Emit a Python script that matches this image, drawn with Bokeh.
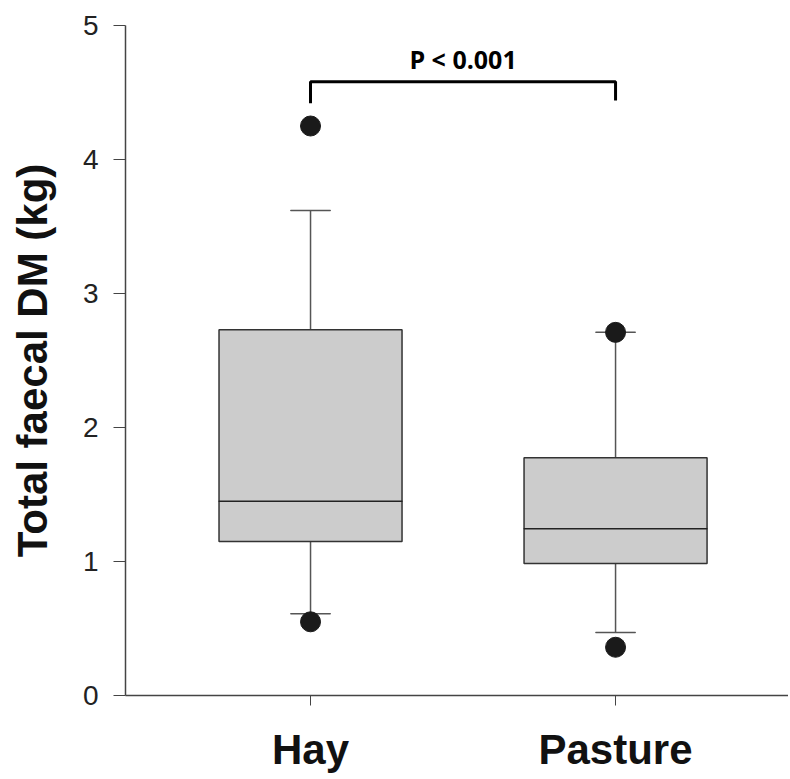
from bokeh.plotting import figure
from bokeh.models import Range1d, FixedTicker, ColumnDataSource
from bokeh.core.properties import value
from bokeh.embed import file_html
from bokeh.resources import INLINE

# ---- data ----
categories = ["Hay", "Pasture"]
q1 = [1.15, 0.985]
median = [1.45, 1.245]
q3 = [2.73, 1.775]
whisker_low = [0.61, 0.47]
whisker_high = [3.62, 2.71]
outlier_cat = ["Hay", "Hay", "Pasture", "Pasture"]
outlier_val = [4.25, 0.55, 2.71, 0.36]
y_ticks = [0, 1, 2, 3, 4, 5]
p_text = "P < 0.001"
bracket_top = 4.58
bracket_legs = [4.42, 4.44]
p_text_y = 4.75

pos = {c: i + 1 for i, c in enumerate(categories)}
xs = [pos[c] for c in categories]

p = figure(output_backend="svg", toolbar_location=None,
           frame_width=663, frame_height=670,
           min_border_left=125, min_border_right=0,
           min_border_top=25, min_border_bottom=76,
           x_range=Range1d(0.3934, 2.567), y_range=Range1d(0, 5))
p.outline_line_color = None
p.grid.visible = False
p.background_fill_color = "white"
p.border_fill_color = "white"

box_w = 0.6
cap_w = 0.13

src = ColumnDataSource(dict(x=xs, q1=q1, med=median, q3=q3, lo=whisker_low, hi=whisker_high))

# whiskers
p.segment(x0="x", y0="q3", x1="x", y1="hi", source=src, line_color="#555555", line_width=1.5)
p.segment(x0="x", y0="lo", x1="x", y1="q1", source=src, line_color="#555555", line_width=1.5)
p.rect(x="x", y="hi", width=cap_w, height=0.0001, source=src, line_color="#555555", line_width=1.5, fill_color=None)
p.rect(x="x", y="lo", width=cap_w, height=0.0001, source=src, line_color="#555555", line_width=1.5, fill_color=None)
# boxes
p.vbar(x="x", bottom="q1", top="q3", width=box_w, source=src,
       fill_color="#cccccc", line_color="#333333", line_width=1.5)
p.rect(x="x", y="med", width=box_w, height=0.0001, source=src, line_color="#222222", line_width=1.5, fill_color=None)

# outliers
p.scatter([pos[c] for c in outlier_cat], outlier_val, size=20, marker="circle",
          fill_color="#1a1a1a", line_color="#1a1a1a")

# significance bracket
x1, x2 = pos[categories[0]], pos[categories[1]]
p.line([x1, x1, x2, x2], [bracket_legs[0], bracket_top, bracket_top, bracket_legs[1]],
       line_color="black", line_width=3)
p.text([(x1 + x2) / 2], [p_text_y], text=[p_text], text_align="center",
       text_baseline="alphabetic", text_font=value("Open Sans"),
       text_font_style="bold", text_font_size="25px", text_color="black")

# axes
p.yaxis.ticker = FixedTicker(ticks=y_ticks)
p.yaxis.axis_label = "Total faecal DM (kg)"
p.yaxis.axis_label_text_font = "Liberation Sans"
p.yaxis.axis_label_text_font_style = "bold"
p.yaxis.axis_label_text_font_size = "42px"
p.yaxis.axis_label_text_color = "#111111"
p.yaxis.axis_label_standoff = 24
p.yaxis.major_label_text_font = "Liberation Sans"
p.yaxis.major_label_text_font_size = "28px"
p.yaxis.major_label_text_color = "#222222"
p.yaxis.major_label_standoff = 15
p.yaxis.major_tick_out = 12
p.yaxis.major_tick_in = 0
p.yaxis.minor_tick_out = 0
p.yaxis.minor_tick_in = 0
p.yaxis.axis_line_color = "#444444"
p.yaxis.major_tick_line_color = "#444444"
p.yaxis.axis_line_width = 1.5

p.xaxis.ticker = FixedTicker(ticks=xs)
p.xaxis.major_label_overrides = {pos[c]: c for c in categories}
p.xaxis.major_label_text_font = "Liberation Sans"
p.xaxis.major_label_text_font_style = "bold"
p.xaxis.major_label_text_font_size = "42px"
p.xaxis.major_label_text_color = "#111111"
p.xaxis.major_label_standoff = 20
p.xaxis.major_tick_out = 10
p.xaxis.major_tick_in = 0
p.xaxis.minor_tick_out = 0
p.xaxis.minor_tick_in = 0
p.xaxis.axis_line_color = "#444444"
p.xaxis.major_tick_line_color = "#444444"
p.xaxis.axis_line_width = 1.5

open("out.html", "w").write(file_html(p, INLINE))
